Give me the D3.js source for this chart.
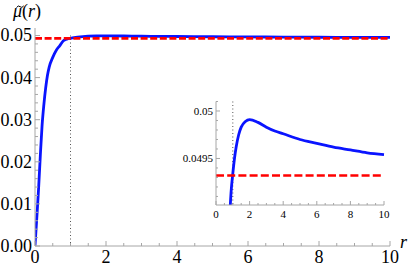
<!DOCTYPE html>
<html><head><meta charset="utf-8">
<script src="https://cdn.jsdelivr.net/npm/d3@7"></script>
<style>body{margin:0;background:#fff}svg{display:block} svg text{font-family:"Liberation Serif","Tinos","Times New Roman",serif !important;}</style>
</head><body><svg id="c" width="416" height="268" font-family="Liberation Serif" style="font-family:'Liberation Serif'"></svg>
<script>
const rVals  = [0,0.05,0.1,0.15,0.2,0.25,0.3,0.35,0.4,0.5,0.6,0.7,0.8,0.85,0.9,1.0,1.1,1.2,1.35,1.5,1.75,2,2.5,3,3.5,4,5,6,7,8,9,10];
const muVals = [0,0.0066,0.0135,0.0215,0.0287,0.0336,0.0375,0.0405,0.0425,0.0448,0.0465,0.0476,0.04875,0.0490,0.04915,0.04934,0.0495,0.04962,0.04975,0.04983,0.04989,0.04991,0.04988,0.04983,0.04979,0.04976,0.0497,0.04966,0.04962,0.04959,0.04956,0.04954];
const muLimit = 0.04932;
const rMark = 1;
const mainXTicks = [0,2,4,6,8,10];
const mainYTicks = [0,0.01,0.02,0.03,0.04,0.05];
const mainYLabels = ["0.00","0.01","0.02","0.03","0.04","0.05"];
const insetXTicks = [0,2,4,6,8,10];
const insetYTicks = [0.0495,0.05];
const insetYLabels = ["0.0495","0.05"];

const FF = "'Liberation Serif'";
const svg = d3.select("#c");
const data = rVals.map((r,i)=>({r, m: muVals[i]}));
const axisCol = "#a6a6a6";

function panel(g, x, y, xTicks, xMinor, yTicks, yLabels, yMinor, fs, tl, tm, xLabOff, clipId, dash){
  const [x0,x1] = x.range(), [y0,y1] = y.range();
  g.append("clipPath").attr("id",clipId).append("rect").attr("x",x0).attr("y",y1-2).attr("width",x1-x0+2).attr("height",y0-y1+2);
  g.append("line").attr("x1",x(rMark)).attr("x2",x(rMark)).attr("y1",y1).attr("y2",y0)
    .attr("stroke","#555").attr("stroke-width",1).attr("stroke-dasharray","1,2.5");
  const line = d3.line().x(d=>x(d.r)).y(d=>y(d.m)).curve(d3.curveMonotoneX);
  g.append("path").datum(data).attr("d",line).attr("fill","none").attr("stroke","#0a14ff")
    .attr("stroke-width",2.8).attr("clip-path",`url(#${clipId})`);
  g.append("line").attr("x1",x0).attr("x2",x1).attr("y1",y(muLimit)).attr("y2",y(muLimit))
    .attr("stroke","#ff0000").attr("stroke-width",2.6).attr("stroke-dasharray",dash);
  g.append("line").attr("x1",x0).attr("x2",x1).attr("y1",y0).attr("y2",y0).attr("stroke",axisCol).attr("stroke-width",1);
  g.append("line").attr("x1",x0).attr("x2",x0).attr("y1",y0).attr("y2",y1).attr("stroke",axisCol).attr("stroke-width",1);
  xMinor.forEach(v=>{ const maj = xTicks.includes(v);
    g.append("line").attr("x1",x(v)).attr("x2",x(v)).attr("y1",y0).attr("y2",y0-(maj?tl:tm)).attr("stroke",axisCol); });
  yMinor.forEach(v=>{ const maj = yTicks.some(t=>Math.abs(t-v)<1e-9);
    g.append("line").attr("x1",x0).attr("x2",x0+(maj?tl:tm)).attr("y1",y(v)).attr("y2",y(v)).attr("stroke",axisCol); });
  g.selectAll(null).data(xTicks).enter().append("text").attr("x",d=>x(d)).attr("y",y0+xLabOff)
    .attr("text-anchor","middle").style("font-family",FF).style("font-size",fs+"px").text(d=>d);
  g.selectAll(null).data(yTicks).enter().append("text").attr("x",x0-3).attr("y",d=>y(d))
    .attr("dy","0.33em").attr("text-anchor","end").style("font-family",FF).style("font-size",fs+"px").text((d,i)=>yLabels[i]);
}

const xM = d3.scaleLinear().domain([0,10]).range([35,390]);
const yM = d3.scaleLinear().domain([0,0.05]).range([246,35.5]);
const gM = svg.append("g");
panel(gM, xM, yM, mainXTicks, d3.range(0,10.01,0.5), mainYTicks, mainYLabels, d3.range(0,0.0511,0.002), 18, 5, 3, 17, "cm", "7,2.6");
gM.append("line").attr("x1",35).attr("x2",35).attr("y1",35.5).attr("y2",28).attr("stroke",axisCol);

const xI = d3.scaleLinear().domain([0,10]).range([216,384]);
const yI = d3.scaleLinear().domain([0.04901,0.0501]).range([205,101.5]);
const gI = svg.append("g");
panel(gI, xI, yI, insetXTicks, d3.range(0,10.01,0.5), insetYTicks, insetYLabels, d3.range(0.0491,0.05011,0.0001), 11, 4, 2, 13, "ci", "8,3.2");

// axis titles
const t = svg.append("text").attr("x",13).attr("y",17).style("font-family",FF).style("font-size","18px").style("font-style","italic");
t.append("tspan").text("μ");
t.append("tspan").style("font-style","normal").text("(");
t.append("tspan").text("r");
t.append("tspan").style("font-style","normal").text(")");
// tilde accent drawn as a small path above μ
svg.append("path").attr("d","M16.5,7.5 q1.8,-2.6 3.6,-0.8 t3.6,-0.8").attr("fill","none").attr("stroke","#000").attr("stroke-width",1);
svg.append("text").attr("x",400).attr("y",248).style("font-family",FF).style("font-size","18px").style("font-style","italic").text("r");
</script></body></html>
